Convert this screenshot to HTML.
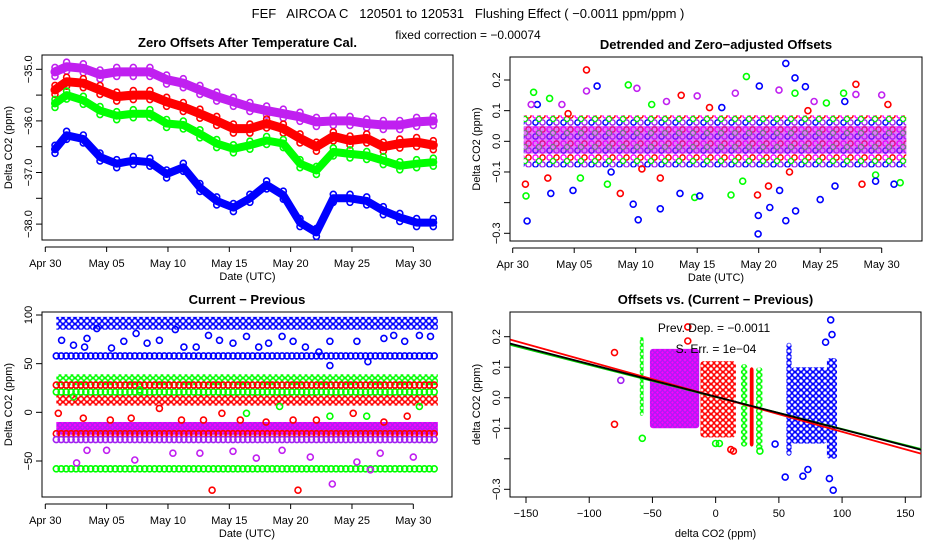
<!DOCTYPE html>
<html><head><meta charset="utf-8"><style>
html,body{margin:0;padding:0;background:#fff;}
svg{display:block;font-family:"Liberation Sans",sans-serif;}
</style></head><body>
<svg id="chart" width="936" height="540" viewBox="0 0 936 540" xmlns="http://www.w3.org/2000/svg">
<defs>
<pattern id="patBlue" width="6" height="6" patternUnits="userSpaceOnUse"><circle cx="3" cy="3" r="2.4" fill="none" stroke="#0000ff" stroke-width="1.5"/></pattern>
<pattern id="patRed" width="6" height="6" patternUnits="userSpaceOnUse"><circle cx="3" cy="3" r="2.4" fill="none" stroke="#ff0000" stroke-width="1.5"/></pattern>
<pattern id="patGreen" width="6" height="6" patternUnits="userSpaceOnUse"><circle cx="3" cy="3" r="2.4" fill="none" stroke="#00ff00" stroke-width="1.5"/></pattern>
<pattern id="patMag" width="5" height="5" patternUnits="userSpaceOnUse"><rect width="5" height="5" fill="#ff00ff"/><circle cx="2.5" cy="2.5" r="1.8" fill="none" stroke="#a020f0" stroke-width="1.2"/></pattern>
<pattern id="patMix" width="14" height="14" patternUnits="userSpaceOnUse"><rect width="14" height="14" fill="#fff"/><circle cx="3.5" cy="3.5" r="2.6" fill="none" stroke="#ff00ff" stroke-width="1.5"/><circle cx="10.5" cy="3.5" r="2.6" fill="none" stroke="#ff0000" stroke-width="1.5"/><circle cx="3.5" cy="10.5" r="2.6" fill="none" stroke="#0000ff" stroke-width="1.5"/><circle cx="10.5" cy="10.5" r="2.6" fill="none" stroke="#a020f0" stroke-width="1.5"/><circle cx="7" cy="7" r="2.6" fill="none" stroke="#00ff00" stroke-width="1.2"/></pattern>
</defs>
<rect x="0" y="0" width="936" height="540" fill="#fff"/>
<text x="468" y="18" font-size="13" text-anchor="middle" xml:space="preserve">FEF   AIRCOA C   120501 to 120531   Flushing Effect ( −0.0011 ppm/ppm )</text>
<text x="468" y="39" font-size="12" text-anchor="middle">fixed correction = −0.00074</text>
<g id="g1"></g>
<g id="g2"></g>
<g id="g3"></g>
<g id="g4"></g>
</svg>
<script>
// ---------- DATA ----------
const p1Days = [0.79,1.74,3.1,4.46,5.82,7.17,8.53,9.89,11.25,12.6,13.97,15.33,16.68,18.04,19.4,20.76,22.1,23.48,24.84,26.2,27.55,28.9,30.27,31.63];
const p1Magenta = [-35.05,-34.95,-34.98,-35.1,-35.05,-35.05,-35.05,-35.2,-35.27,-35.4,-35.53,-35.63,-35.73,-35.8,-35.86,-35.92,-36.02,-36.0,-36.0,-36.05,-36.08,-36.08,-36.02,-36.0];
const p1Red = [-35.4,-35.24,-35.27,-35.4,-35.53,-35.5,-35.5,-35.63,-35.73,-35.86,-36.0,-36.15,-36.15,-36.05,-36.15,-36.34,-36.5,-36.3,-36.38,-36.34,-36.5,-36.44,-36.41,-36.47];
const p1Green = [-35.66,-35.5,-35.6,-35.8,-35.9,-35.86,-35.86,-36.05,-36.08,-36.25,-36.44,-36.54,-36.47,-36.38,-36.44,-36.83,-36.96,-36.6,-36.64,-36.67,-36.77,-36.87,-36.83,-36.8];
const p1Blue = [-36.55,-36.28,-36.35,-36.7,-36.83,-36.77,-36.8,-37.03,-36.9,-37.29,-37.55,-37.68,-37.5,-37.24,-37.44,-37.97,-38.16,-37.5,-37.5,-37.55,-37.74,-37.87,-37.97,-37.97];
const p1YTicks = [-35,-35.5,-36,-36.5,-37,-37.5,-38];
const p1YLabels = ["−35.0","","−36.0","","−37.0","","−38.0"];
const dateTicks = [0,5,10,15,20,25,30];
const dateLabels = ["Apr 30","May 05","May 10","May 15","May 20","May 25","May 30"];

const p2CoreHi = 0.085, p2CoreLo = -0.085;
const p2BlueD = [1.17,6.86,9.8,10.2,12,13.6,19.95,19.97,20.05,20.9,22.2,22.2,22.95,23,23.8,25,21.7,3.1,4.9,29.5,26.2,15.2,2,8,17,27,31];
const p2BlueV = [-0.26,0.18,-0.205,-0.256,-0.22,-0.17,-0.302,-0.242,0.18,-0.216,-0.259,0.254,0.207,-0.227,0.178,-0.19,-0.16,-0.17,-0.16,-0.13,-0.146,-0.178,0.12,-0.1,0.11,0.13,-0.14];
const p2RedD = [6,8.75,19.9,27.9,13.7,1.03,2.85,20.8,28.4,4.5,10.5,16,24,30.5,12,22.5];
const p2RedV = [0.233,-0.17,-0.175,0.186,0.15,-0.14,-0.12,-0.146,-0.14,0.09,-0.09,0.11,0.1,0.12,-0.12,-0.1];
const p2GreenD = [1.08,19,9.4,14.8,22.95,26.9,1.7,17.75,7.7,3,11.3,18.7,25.5,31.5,5.5,29.5];
const p2GreenV = [-0.178,0.211,0.184,-0.183,0.157,0.157,0.16,-0.175,-0.14,0.14,0.12,-0.13,0.125,-0.135,-0.12,-0.11];
const p2MagD = [6,10.1,27.9,21.65,18.1,15,30,1.5,4,12.5,24.5];
const p2MagV = [0.164,0.173,0.153,0.167,0.157,0.148,0.151,0.12,0.12,0.13,0.13];
const p2YTicks = [0.2,0.1,0,-0.1,-0.2,-0.3];
const p2YLabels = ["0.2","0.1","0.0","−0.1","","−0.3"];

const p3RowLevels = [58,-58,21,28,-22,-28];
const p3RowColors = ["#0000ff","#00ff00","#00ff00","#ff0000","#ff0000","#a020f0"];
const p3BandTop = [95,36,15,-13];
const p3BandBottom = [88,31,10,-20];
const p3BandFills = ["url(#patBlue)","url(#patGreen)","url(#patRed)","url(#patMag)"];
const p3BlueD = [1.33,2.3,3.2,4.2,3.4,5.4,6.4,7.4,8.3,9.3,10.6,11.3,12.3,13.3,14.2,15.3,16.4,17.4,18.2,19.3,20.2,21.2,22.3,23.2,23.2,25.4,26.3,27.6,28.4,29.3,30.5,31.4];
const p3BlueV = [74,69,67,86,76,66,73,81,71,74,85,67,67,79,74,71,78,67,71,78,73,67,62,73,48,73,52,76,79,73,79,78];
const p3RedD = [1.06,3.1,5.3,7,9.3,11.1,12.9,14.4,15.9,18,20.2,22.1,25.1,27.6,29.5,13.6,20.6];
const p3RedV = [-1,-6,-8,-6,4,-8,-8,-1,-8,-10,-8,-8,-1,-10,-4,-80,-80];
const p3GreenD = [2.3,7.7,16.4,19.1,23.2,26.2,30.5];
const p3GreenV = [16,23,-1,6,-4,-4,6];
const p3MagD = [2.55,3.4,5,7.3,10.4,12.6,15.3,17.2,19.3,21.6,23.4,25.4,26.5,27.3,30];
const p3MagV = [-52,-39,-39,-49,-42,-42,-40,-47,-39,-46,-73.6,-51,-59,-42,-46];
const p3YTicks = [100,50,0,-50];
const p3YLabels = ["100","50","0","−50"];

const p4ClusterXMin = [-60,-52,-12,20,27,32,56,60,88];
const p4ClusterXMax = [-57,-13,16,25,30,37,60,88,96];
const p4ClusterYMin = [-0.06,-0.1,-0.13,-0.16,-0.16,-0.17,-0.19,-0.15,-0.2];
const p4ClusterYMax = [0.2,0.16,0.12,0.11,0.1,0.1,0.18,0.1,0.13];
const p4ClusterFills = ["url(#patGreen)","url(#patMag)","url(#patRed)","url(#patGreen)","#ff0000","url(#patGreen)","url(#patBlue)","url(#patBlue)","url(#patBlue)"];
const p4OutX = [-80,-80,-75,-58,-22,-22,12,14,3,47,55,69,73,91,92,90,93,87,0,35];
const p4OutY = [0.148,-0.087,0.057,-0.133,0.232,0.186,-0.17,-0.175,-0.15,-0.152,-0.26,-0.257,-0.235,0.255,0.207,-0.265,-0.303,0.182,-0.15,-0.175];
const p4OutC = ["#ff0000","#ff0000","#a020f0","#00ff00","#ff0000","#ff0000","#ff0000","#ff0000","#00ff00","#0000ff","#0000ff","#0000ff","#0000ff","#0000ff","#0000ff","#0000ff","#0000ff","#0000ff","#00ff00","#00ff00"];
const p4LineIntercepts = [0.0025,0.0035,0.0035];
const p4LineSlopes = [-0.00105,-0.00115,-0.00107];
const p4LineColors = ["#00cc00","#ff0000","#000000"];
const p4XTicks = [-150,-100,-50,0,50,100,150];
const p4XLabels = ["−150","−100","−50","0","50","100","150"];

// ---------- HELPERS ----------
const NS = "http://www.w3.org/2000/svg";
function mk(parent, tag, attrs, name){
  const e = document.createElementNS(NS, tag);
  for (const k in attrs) e.setAttribute(k, attrs[k]);
  
  
  parent.appendChild(e);
  return e;
}
function txt(parent, x, y, s, size, anchor, name, extra){
  const t = mk(parent, 'text', Object.assign({x:x, y:y, 'font-size':size, 'text-anchor':anchor}, extra||{}), name);
  t.textContent = s;
  return t;
}
function circ(parent, x, y, color, name){
  return mk(parent, 'circle', {cx:x.toFixed(1), cy:y.toFixed(1), r:3, fill:'none', stroke:color, 'stroke-width':1.6}, name);
}
function frame(g, P, title, xlab, ylab){
  mk(g,'rect',{x:P.x0,y:P.y0,width:P.x1-P.x0,height:P.y1-P.y0,fill:'none',stroke:'#000','stroke-width':1},'plot-box');
  txt(g,(P.x0+P.x1)/2,P.y0-8,title,13,'middle','panel-title',{'font-weight':'bold'});
  txt(g,(P.x0+P.x1)/2,P.y1+40,xlab,11,'middle','x-axis-title');
  txt(g,0,0,ylab,11,'middle','y-axis-title',{transform:`translate(${P.x0-30},${(P.y0+P.y1)/2}) rotate(-90)`});
}
function yAxis(g,P,ticks,labels,ys){
  ticks.forEach((v,i)=>{
    const y=ys(v);
    mk(g,'line',{x1:P.x0,x2:P.x0-6,y1:y,y2:y,stroke:'#000'},'y-tick');
    if(labels[i]) txt(g,0,0,labels[i],11,'middle','y-tick-label',{transform:`translate(${P.x0-10},${y}) rotate(-90)`});
  });
}
function xAxis(g,P,ticks,labels,xs){
  mk(g,'line',{x1:xs(ticks[0]),x2:xs(ticks[ticks.length-1]),y1:P.y1+7,y2:P.y1+7,stroke:'#000'},'x-axis-line');
  ticks.forEach((v,i)=>{
    const x=xs(v);
    mk(g,'line',{x1:x,x2:x,y1:P.y1+7,y2:P.y1+12,stroke:'#000'},'x-tick');
    txt(g,x,P.y1+27,labels[i],11,'middle','x-tick-label');
  });
}
function band(g,xs,ys,days,vals,color,w,name){
  const pts=days.map((d,i)=>xs(d).toFixed(1)+','+ys(vals[i]).toFixed(1)).join(' ');
  mk(g,'polyline',{points:pts,fill:'none',stroke:color,'stroke-width':w,'stroke-linejoin':'round','stroke-linecap':'round'},name);
  days.forEach((d,i)=>circ(g,xs(d),ys(vals[i])-w/2,color,name+'-point'));
  days.forEach((d,i)=>circ(g,xs(d),ys(vals[i])+w/2,color,name+'-point'));
}

// ---------- PANEL 1 ----------
(function(){
  const g=document.getElementById('g1');
  const P={x0:42,x1:453,y0:55,y1:240};
  const xs=d=>45.3+d*12.267, ys=v=>69.3+(-35-v)*51.6;
  frame(g,P,'Zero Offsets After Temperature Cal.','Date (UTC)','Delta CO2 (ppm)');
  yAxis(g,P,p1YTicks,p1YLabels,ys);
  xAxis(g,P,dateTicks,dateLabels,xs);
  band(g,xs,ys,p1Days,p1Magenta,'#c020f0',9,'magenta-series');
  band(g,xs,ys,p1Days,p1Red,'#ff0000',9,'red-series');
  band(g,xs,ys,p1Days,p1Green,'#00ff00',8,'green-series');
  band(g,xs,ys,p1Days,p1Blue,'#0000ff',8,'blue-series');
})();

// ---------- PANEL 2 ----------
(function(){
  const g=document.getElementById('g2');
  const P={x0:510,x1:922,y0:57,y1:241};
  const xs=d=>512.7+d*12.3, ys=v=>80+(0.2-v)*306.6;
  frame(g,P,'Detrended and Zero−adjusted Offsets','Date (UTC)','Delta CO2 (ppm)');
  yAxis(g,P,p2YTicks,p2YLabels,ys);
  xAxis(g,P,dateTicks,dateLabels,xs);
  const xa=xs(0.9), xb=xs(32);
  mk(g,'rect',{x:xa,y:ys(p2CoreHi),width:xb-xa,height:ys(p2CoreLo)-ys(p2CoreHi),fill:'url(#patMix)'},'core-band');
  mk(g,'rect',{x:xa,y:ys(0.05),width:xb-xa,height:ys(-0.04)-ys(0.05),fill:'url(#patMag)',opacity:0.55},'core-band-center');
  p2GreenD.forEach((d,i)=>circ(g,xs(d),ys(p2GreenV[i]),'#00ff00','green-point'));
  p2BlueD.forEach((d,i)=>circ(g,xs(d),ys(p2BlueV[i]),'#0000ff','blue-point'));
  p2RedD.forEach((d,i)=>circ(g,xs(d),ys(p2RedV[i]),'#ff0000','red-point'));
  p2MagD.forEach((d,i)=>circ(g,xs(d),ys(p2MagV[i]),'#c020f0','magenta-point'));
})();

// ---------- PANEL 3 ----------
(function(){
  const g=document.getElementById('g3');
  const P={x0:42,x1:452,y0:312,y1:497};
  const xs=d=>45.3+d*12.267, ys=v=>315+(100-v)*0.9733;
  frame(g,P,'Current − Previous','Date (UTC)','Delta CO2 (ppm)');
  yAxis(g,P,p3YTicks,p3YLabels,ys);
  xAxis(g,P,dateTicks,dateLabels,xs);
  const xa=xs(0.9), xb=xs(32);
  p3BandTop.forEach((t,i)=>{
    mk(g,'rect',{x:xa,y:ys(t)-3,width:xb-xa,height:ys(p3BandBottom[i])-ys(t)+6,fill:p3BandFills[i]},'scatter-band');
  });
  p3RowLevels.forEach((lv,i)=>{
    for(let d=0.9; d<=32; d+=0.4){
      circ(g,xs(d),ys(lv),p3RowColors[i],'row-point');
    }
  });
  p3BlueD.forEach((d,i)=>circ(g,xs(d),ys(p3BlueV[i]),'#0000ff','blue-point'));
  p3GreenD.forEach((d,i)=>circ(g,xs(d),ys(p3GreenV[i]),'#00ff00','green-point'));
  p3RedD.forEach((d,i)=>circ(g,xs(d),ys(p3RedV[i]),'#ff0000','red-point'));
  p3MagD.forEach((d,i)=>circ(g,xs(d),ys(p3MagV[i]),'#c020f0','magenta-point'));
})();

// ---------- PANEL 4 ----------
(function(){
  const g=document.getElementById('g4');
  const P={x0:510,x1:921,y0:312,y1:497};
  const xs=v=>715.65+v*1.2643, ys=v=>336.7+(0.2-v)*305.2;
  frame(g,P,'Offsets vs. (Current − Previous)','delta CO2 (ppm)','delta CO2 (ppm)');
  yAxis(g,P,p2YTicks,p2YLabels,ys);
  p4XTicks.forEach((v,i)=>{const x=xs(v);
    mk(g,'line',{x1:x,x2:x,y1:P.y1,y2:P.y1+6,stroke:'#000'},'x-tick');
    txt(g,x,P.y1+20,p4XLabels[i],11,'middle','x-tick-label');});
  p4ClusterXMin.forEach((x0,i)=>{
    mk(g,'rect',{x:xs(x0),y:ys(p4ClusterYMax[i]),width:xs(p4ClusterXMax[i])-xs(x0),height:ys(p4ClusterYMin[i])-ys(p4ClusterYMax[i]),fill:p4ClusterFills[i],rx:3},'cluster');
  });
  p4OutX.forEach((x,i)=>circ(g,xs(x),ys(p4OutY[i]),p4OutC[i],'outlier-point'));
  p4LineIntercepts.forEach((b,i)=>{
    const xa=-162.4, xb=162.4;
    mk(g,'line',{x1:xs(xa),y1:ys(b+p4LineSlopes[i]*xa),x2:xs(xb),y2:ys(b+p4LineSlopes[i]*xb),stroke:p4LineColors[i],'stroke-width':1.8},'fit-line');
  });
  txt(g,714,332,'Prev. Dep. =  −0.0011',12,'middle','prev-dep-label');
  txt(g,716,353,'S. Err. =  1e−04',12,'middle','std-err-label');
})();
</script>
</body></html>
